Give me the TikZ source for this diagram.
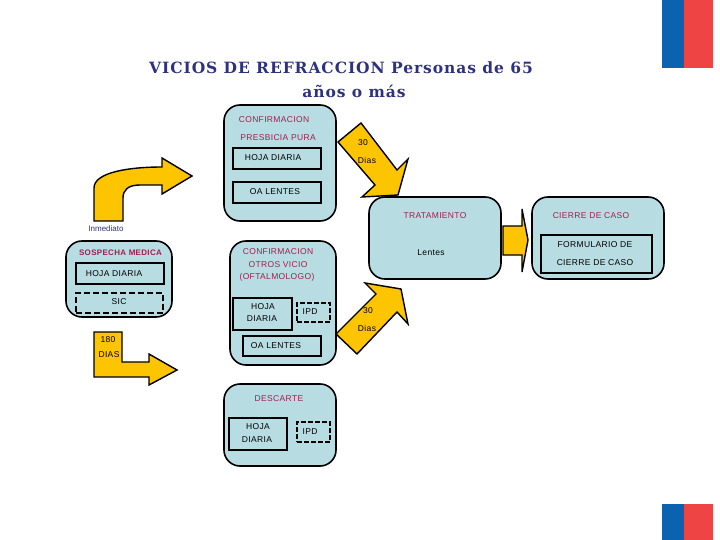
\documentclass[tikz,border=0pt]{standalone}
\usepackage{fontspec}
\setmainfont{Liberation Sans}
\newfontfamily\titlefont[LetterSpace=6]{DejaVu Serif}
\newfontfamily\spacedfont[LetterSpace=4]{Liberation Sans}
\usepackage{tikz}
\definecolor{boxblue}{HTML}{B7DDE3}
\definecolor{arrowyellow}{HTML}{FDC400}
\definecolor{labelred}{HTML}{A0204F}
\definecolor{titleblue}{HTML}{2E3180}
\definecolor{flagblue}{HTML}{0B62AE}
\definecolor{flagred}{HTML}{EF4444}

\begin{document}
\begin{tikzpicture}[x=1pt,y=-1pt]

\tikzset{casebox/.style = {shape=rectangle,draw,fill=boxblue,rounded corners=16pt,line width=1.6pt,inner sep=0pt}}
\tikzset{formbox/.style = {shape=rectangle,draw,line width=2.2pt,inner sep=0pt}}
\tikzset{thinbox/.style = {shape=rectangle,draw,line width=1.4pt,inner sep=0pt}}
\tikzset{sicbox/.style = {formbox,dash pattern=on 6pt off 3pt}}
\tikzset{ipdbox/.style = {thinbox,dash pattern=on 5pt off 2pt}}
\tikzset{blockarrow/.style = {draw,fill=arrowyellow,line width=1.4pt,line join=miter}}
\tikzset{txt/.style = {font=\spacedfont\fontsize{8.5}{10}\selectfont,inner sep=0pt}}
\tikzset{redtxt/.style = {txt,text=labelred}}
\tikzset{titletxt/.style = {font=\titlefont\bfseries\fontsize{15.5}{15.5}\selectfont,text=titleblue,inner sep=0pt}}

\useasboundingbox (0,0) rectangle (720,540);

% flags
\fill[flagblue] (662,0) rectangle (684,68);
\fill[flagred] (684,0) rectangle (713,68);
\fill[flagblue] (662,504) rectangle (684,540);
\fill[flagred] (684,504) rectangle (713,540);

% title
\node[titletxt] (title1) at (341,68) {VICIOS DE REFRACCION Personas de 65};
\node[titletxt] (title2) at (354,91) {años o más};

% arrows
\draw[blockarrow] (94,221) -- (94,188) .. controls (94,172) and (130,167) .. (162,167) -- (162,158) -- (192,176) -- (162,194) -- (162,185) -- (140,185) .. controls (128,185) and (123,190) .. (123,198) -- (123,221) -- cycle;
\draw[blockarrow] (94,332) -- (122,332) -- (122,362) -- (149,362) -- (149,354) -- (177,370) -- (149,385) -- (149,377) -- (94,377) -- cycle;
\draw[blockarrow] (361,123) -- (397,170) -- (408,159) -- (398,195) -- (362,197) -- (375,185) -- (338,142) -- cycle;
\draw[blockarrow] (365,283) -- (401,289) -- (408,324) -- (397,312) -- (357,354) -- (336,334) -- (376,294) -- cycle;
\draw[blockarrow] (503,226) -- (522,226) -- (522,209) -- (528,240) -- (522,272) -- (522,255) -- (503,255) -- cycle;

% case boxes
\node[casebox,minimum width=112pt,minimum height=116pt] (presbicia) at (280,163) {};
\node[casebox,minimum width=106pt,minimum height=76pt] (sospecha) at (119,279) {};
\node[casebox,minimum width=106pt,minimum height=124pt] (otros) at (283,303) {};
\node[casebox,minimum width=112pt,minimum height=82pt] (descarte) at (280,425) {};
\node[casebox,minimum width=132pt,minimum height=82pt] (tratamiento) at (435,238) {};
\node[casebox,minimum width=132pt,minimum height=82pt] (cierre) at (598,238) {};

% inner boxes
\node[formbox,minimum width=88pt,minimum height=21pt] (hoja1) at (277,158.5) {};
\node[formbox,minimum width=88pt,minimum height=21pt] (lentes1) at (277,192.5) {};
\node[formbox,minimum width=88pt,minimum height=21pt] (hoja2) at (120,273.5) {};
\node[sicbox,minimum width=87pt,minimum height=20pt] (sic) at (119.5,303) {};
\node[formbox,minimum width=59pt,minimum height=32pt] (hoja3) at (262.5,314) {};
\node[ipdbox,minimum width=33pt,minimum height=19pt] (ipd1) at (313.5,312.5) {};
\node[thinbox,minimum width=78pt,minimum height=20pt] (lentes2) at (282,346) {};
\node[formbox,minimum width=58pt,minimum height=32pt] (hoja4) at (258,434) {};
\node[ipdbox,minimum width=33pt,minimum height=20pt] (ipd2) at (313.5,432) {};
\node[formbox,minimum width=111pt,minimum height=38pt] (formulario) at (596.5,254) {};

% labels
\node[redtxt] (t1) at (274,120) {CONFIRMACION};
\node[redtxt] (t2) at (278,138) {PRESBICIA PURA};
\node[txt] (t3) at (273,158) {HOJA DIARIA};
\node[txt] (t4) at (275,192) {OA LENTES};
\node[text=titleblue,inner sep=0pt,font=\fontsize{8}{9}\selectfont] (t5) at (106,229) {Inmediato};
\node[redtxt,font=\spacedfont\bfseries\fontsize{8}{10}\selectfont] (t6) at (120.5,253) {SOSPECHA MEDICA};
\node[txt] (t7) at (114,274) {HOJA DIARIA};
\node[txt] (t8) at (119,302) {SIC};
\node[redtxt] (t9) at (278,252) {CONFIRMACION};
\node[redtxt] (t10) at (278,265) {OTROS VICIO};
\node[redtxt] (t11) at (277,277) {(OFTALMOLOGO)};
\node[txt] (t12) at (263,307) {HOJA};
\node[txt] (t13) at (262,319) {DIARIA};
\node[txt] (t14) at (310,312) {IPD};
\node[txt] (t15) at (276,346) {OA LENTES};
\node[txt] (t16) at (108,340) {180};
\node[txt] (t17) at (109,355) {DIAS};
\node[redtxt] (t18) at (279,399) {DESCARTE};
\node[txt] (t19) at (258,427) {HOJA};
\node[txt] (t20) at (257,440) {DIARIA};
\node[txt] (t21) at (310,432) {IPD};
\node[redtxt] (t22) at (435,216) {TRATAMIENTO};
\node[txt] (t23) at (431,253) {Lentes};
\node[redtxt] (t24) at (591,216) {CIERRE DE CASO};
\node[txt] (t25) at (595,245) {FORMULARIO DE};
\node[txt] (t26) at (595,263) {CIERRE DE CASO};
\node[txt] (t27) at (363,143) {30};
\node[txt] (t28) at (367,160) {Dias};
\node[txt] (t29) at (368,311) {30};
\node[txt] (t30) at (367,328) {Dias};
\end{tikzpicture}
\end{document}
